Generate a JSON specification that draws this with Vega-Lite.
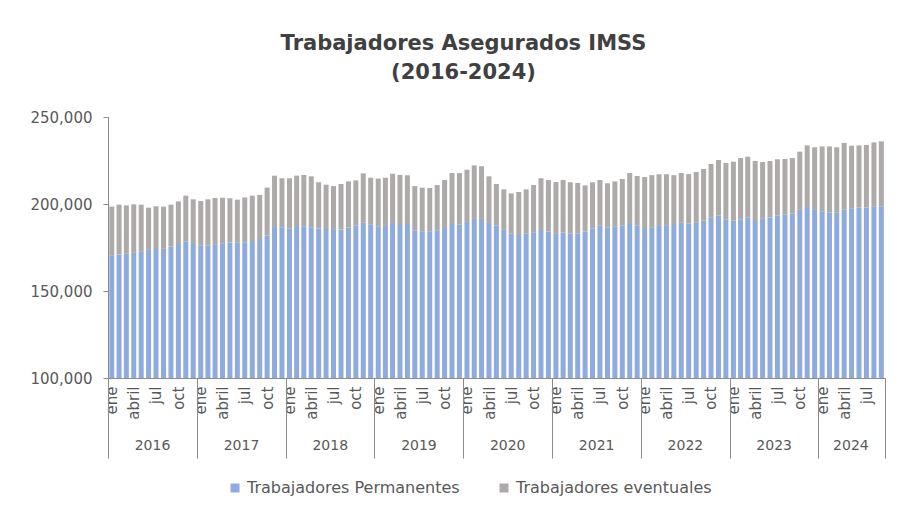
{
  "$schema": "https://vega.github.io/schema/vega-lite/v6.json",
  "autosize": {"type": "none"},
  "padding": {"left": 108, "top": 117, "right": 19, "bottom": 140},
  "width": 777,
  "height": 261,
  "background": "white",
  "title": {
    "text": ["Trabajadores Asegurados IMSS", "(2016-2024)"],
    "font": "DejaVu Sans",
    "fontSize": 21,
    "fontWeight": "bold",
    "color": "#404040",
    "anchor": "middle",
    "dx": -33,
    "offset": 27,
    "lineHeight": 29
  },
  "config": {
    "view": {"stroke": null},
    "font": "DejaVu Sans"
  },
  "data": {
    "values": [
      {"fecha": "2016-01", "Trabajadores Permanentes": 170500, "Trabajadores eventuales": 28000},
      {"fecha": "2016-02", "Trabajadores Permanentes": 170900, "Trabajadores eventuales": 28700},
      {"fecha": "2016-03", "Trabajadores Permanentes": 171400, "Trabajadores eventuales": 27800},
      {"fecha": "2016-04", "Trabajadores Permanentes": 172200, "Trabajadores eventuales": 27600},
      {"fecha": "2016-05", "Trabajadores Permanentes": 172800, "Trabajadores eventuales": 26800},
      {"fecha": "2016-06", "Trabajadores Permanentes": 173600, "Trabajadores eventuales": 24300},
      {"fecha": "2016-07", "Trabajadores Permanentes": 174100, "Trabajadores eventuales": 24600},
      {"fecha": "2016-08", "Trabajadores Permanentes": 174500, "Trabajadores eventuales": 24000},
      {"fecha": "2016-09", "Trabajadores Permanentes": 175500, "Trabajadores eventuales": 24100},
      {"fecha": "2016-10", "Trabajadores Permanentes": 177000, "Trabajadores eventuales": 24500},
      {"fecha": "2016-11", "Trabajadores Permanentes": 178400, "Trabajadores eventuales": 26400},
      {"fecha": "2016-12", "Trabajadores Permanentes": 177000, "Trabajadores eventuales": 25700},
      {"fecha": "2017-01", "Trabajadores Permanentes": 176000, "Trabajadores eventuales": 25700},
      {"fecha": "2017-02", "Trabajadores Permanentes": 176000, "Trabajadores eventuales": 26700},
      {"fecha": "2017-03", "Trabajadores Permanentes": 176800, "Trabajadores eventuales": 26700},
      {"fecha": "2017-04", "Trabajadores Permanentes": 177400, "Trabajadores eventuales": 26200},
      {"fecha": "2017-05", "Trabajadores Permanentes": 177800, "Trabajadores eventuales": 25500},
      {"fecha": "2017-06", "Trabajadores Permanentes": 178000, "Trabajadores eventuales": 24500},
      {"fecha": "2017-07", "Trabajadores Permanentes": 178000, "Trabajadores eventuales": 25800},
      {"fecha": "2017-08", "Trabajadores Permanentes": 178700, "Trabajadores eventuales": 26100},
      {"fecha": "2017-09", "Trabajadores Permanentes": 179900, "Trabajadores eventuales": 25300},
      {"fecha": "2017-10", "Trabajadores Permanentes": 181800, "Trabajadores eventuales": 27600},
      {"fecha": "2017-11", "Trabajadores Permanentes": 186800, "Trabajadores eventuales": 29500},
      {"fecha": "2017-12", "Trabajadores Permanentes": 186600, "Trabajadores eventuales": 28200},
      {"fecha": "2018-01", "Trabajadores Permanentes": 185800, "Trabajadores eventuales": 29000},
      {"fecha": "2018-02", "Trabajadores Permanentes": 186800, "Trabajadores eventuales": 29500},
      {"fecha": "2018-03", "Trabajadores Permanentes": 187200, "Trabajadores eventuales": 29500},
      {"fecha": "2018-04", "Trabajadores Permanentes": 186600, "Trabajadores eventuales": 29300},
      {"fecha": "2018-05", "Trabajadores Permanentes": 185800, "Trabajadores eventuales": 26700},
      {"fecha": "2018-06", "Trabajadores Permanentes": 185600, "Trabajadores eventuales": 25500},
      {"fecha": "2018-07", "Trabajadores Permanentes": 185100, "Trabajadores eventuales": 25200},
      {"fecha": "2018-08", "Trabajadores Permanentes": 185400, "Trabajadores eventuales": 26100},
      {"fecha": "2018-09", "Trabajadores Permanentes": 186400, "Trabajadores eventuales": 26600},
      {"fecha": "2018-10", "Trabajadores Permanentes": 187500, "Trabajadores eventuales": 26100},
      {"fecha": "2018-11", "Trabajadores Permanentes": 189300, "Trabajadores eventuales": 28300},
      {"fecha": "2018-12", "Trabajadores Permanentes": 188300, "Trabajadores eventuales": 26800},
      {"fecha": "2019-01", "Trabajadores Permanentes": 187000, "Trabajadores eventuales": 27600},
      {"fecha": "2019-02", "Trabajadores Permanentes": 187400, "Trabajadores eventuales": 27700},
      {"fecha": "2019-03", "Trabajadores Permanentes": 189100, "Trabajadores eventuales": 28300},
      {"fecha": "2019-04", "Trabajadores Permanentes": 187900, "Trabajadores eventuales": 28800},
      {"fecha": "2019-05", "Trabajadores Permanentes": 188500, "Trabajadores eventuales": 28000},
      {"fecha": "2019-06", "Trabajadores Permanentes": 184900, "Trabajadores eventuales": 25400},
      {"fecha": "2019-07", "Trabajadores Permanentes": 184300, "Trabajadores eventuales": 25100},
      {"fecha": "2019-08", "Trabajadores Permanentes": 184300, "Trabajadores eventuales": 24900},
      {"fecha": "2019-09", "Trabajadores Permanentes": 184900, "Trabajadores eventuales": 26000},
      {"fecha": "2019-10", "Trabajadores Permanentes": 186200, "Trabajadores eventuales": 27600},
      {"fecha": "2019-11", "Trabajadores Permanentes": 188500, "Trabajadores eventuales": 29300},
      {"fecha": "2019-12", "Trabajadores Permanentes": 188100, "Trabajadores eventuales": 29700},
      {"fecha": "2020-01", "Trabajadores Permanentes": 189700, "Trabajadores eventuales": 30000},
      {"fecha": "2020-02", "Trabajadores Permanentes": 191400, "Trabajadores eventuales": 30800},
      {"fecha": "2020-03", "Trabajadores Permanentes": 191400, "Trabajadores eventuales": 30300},
      {"fecha": "2020-04", "Trabajadores Permanentes": 189100, "Trabajadores eventuales": 26800},
      {"fecha": "2020-05", "Trabajadores Permanentes": 187600, "Trabajadores eventuales": 23900},
      {"fecha": "2020-06", "Trabajadores Permanentes": 185100, "Trabajadores eventuales": 23300},
      {"fecha": "2020-07", "Trabajadores Permanentes": 183000, "Trabajadores eventuales": 23100},
      {"fecha": "2020-08", "Trabajadores Permanentes": 182200, "Trabajadores eventuales": 24700},
      {"fecha": "2020-09", "Trabajadores Permanentes": 183000, "Trabajadores eventuales": 25400},
      {"fecha": "2020-10", "Trabajadores Permanentes": 183700, "Trabajadores eventuales": 27200},
      {"fecha": "2020-11", "Trabajadores Permanentes": 185100, "Trabajadores eventuales": 29700},
      {"fecha": "2020-12", "Trabajadores Permanentes": 184100, "Trabajadores eventuales": 29700},
      {"fecha": "2021-01", "Trabajadores Permanentes": 182800, "Trabajadores eventuales": 29800},
      {"fecha": "2021-02", "Trabajadores Permanentes": 183500, "Trabajadores eventuales": 30300},
      {"fecha": "2021-03", "Trabajadores Permanentes": 183000, "Trabajadores eventuales": 29500},
      {"fecha": "2021-04", "Trabajadores Permanentes": 183000, "Trabajadores eventuales": 29100},
      {"fecha": "2021-05", "Trabajadores Permanentes": 184100, "Trabajadores eventuales": 26600},
      {"fecha": "2021-06", "Trabajadores Permanentes": 185800, "Trabajadores eventuales": 26700},
      {"fecha": "2021-07", "Trabajadores Permanentes": 187500, "Trabajadores eventuales": 26300},
      {"fecha": "2021-08", "Trabajadores Permanentes": 186400, "Trabajadores eventuales": 25500},
      {"fecha": "2021-09", "Trabajadores Permanentes": 187000, "Trabajadores eventuales": 26000},
      {"fecha": "2021-10", "Trabajadores Permanentes": 187500, "Trabajadores eventuales": 26900},
      {"fecha": "2021-11", "Trabajadores Permanentes": 189100, "Trabajadores eventuales": 28700},
      {"fecha": "2021-12", "Trabajadores Permanentes": 187500, "Trabajadores eventuales": 28600},
      {"fecha": "2022-01", "Trabajadores Permanentes": 186200, "Trabajadores eventuales": 29300},
      {"fecha": "2022-02", "Trabajadores Permanentes": 186600, "Trabajadores eventuales": 30000},
      {"fecha": "2022-03", "Trabajadores Permanentes": 187400, "Trabajadores eventuales": 29700},
      {"fecha": "2022-04", "Trabajadores Permanentes": 187400, "Trabajadores eventuales": 29700},
      {"fecha": "2022-05", "Trabajadores Permanentes": 187900, "Trabajadores eventuales": 28700},
      {"fecha": "2022-06", "Trabajadores Permanentes": 189300, "Trabajadores eventuales": 28500},
      {"fecha": "2022-07", "Trabajadores Permanentes": 188700, "Trabajadores eventuales": 28500},
      {"fecha": "2022-08", "Trabajadores Permanentes": 189300, "Trabajadores eventuales": 29100},
      {"fecha": "2022-09", "Trabajadores Permanentes": 190400, "Trabajadores eventuales": 29700},
      {"fecha": "2022-10", "Trabajadores Permanentes": 192100, "Trabajadores eventuales": 30900},
      {"fecha": "2022-11", "Trabajadores Permanentes": 193300, "Trabajadores eventuales": 32000},
      {"fecha": "2022-12", "Trabajadores Permanentes": 191200, "Trabajadores eventuales": 32400},
      {"fecha": "2023-01", "Trabajadores Permanentes": 190400, "Trabajadores eventuales": 33900},
      {"fecha": "2023-02", "Trabajadores Permanentes": 191200, "Trabajadores eventuales": 35200},
      {"fecha": "2023-03", "Trabajadores Permanentes": 192100, "Trabajadores eventuales": 35100},
      {"fecha": "2023-04", "Trabajadores Permanentes": 190200, "Trabajadores eventuales": 34500},
      {"fecha": "2023-05", "Trabajadores Permanentes": 191800, "Trabajadores eventuales": 32300},
      {"fecha": "2023-06", "Trabajadores Permanentes": 192300, "Trabajadores eventuales": 32400},
      {"fecha": "2023-07", "Trabajadores Permanentes": 193300, "Trabajadores eventuales": 32400},
      {"fecha": "2023-08", "Trabajadores Permanentes": 193900, "Trabajadores eventuales": 32000},
      {"fecha": "2023-09", "Trabajadores Permanentes": 194400, "Trabajadores eventuales": 32000},
      {"fecha": "2023-10", "Trabajadores Permanentes": 196600, "Trabajadores eventuales": 33500},
      {"fecha": "2023-11", "Trabajadores Permanentes": 198300, "Trabajadores eventuales": 35400},
      {"fecha": "2023-12", "Trabajadores Permanentes": 196600, "Trabajadores eventuales": 36000},
      {"fecha": "2024-01", "Trabajadores Permanentes": 195800, "Trabajadores eventuales": 37300},
      {"fecha": "2024-02", "Trabajadores Permanentes": 195000, "Trabajadores eventuales": 38100},
      {"fecha": "2024-03", "Trabajadores Permanentes": 195000, "Trabajadores eventuales": 37600},
      {"fecha": "2024-04", "Trabajadores Permanentes": 196700, "Trabajadores eventuales": 38400},
      {"fecha": "2024-05", "Trabajadores Permanentes": 197500, "Trabajadores eventuales": 36000},
      {"fecha": "2024-06", "Trabajadores Permanentes": 197900, "Trabajadores eventuales": 35800},
      {"fecha": "2024-07", "Trabajadores Permanentes": 197900, "Trabajadores eventuales": 36000},
      {"fecha": "2024-08", "Trabajadores Permanentes": 198700, "Trabajadores eventuales": 36700},
      {"fecha": "2024-09", "Trabajadores Permanentes": 198700, "Trabajadores eventuales": 37300}
    ]
  },
  "transform": [
    {"fold": ["Trabajadores Permanentes", "Trabajadores eventuales"], "as": ["serie", "valor"]}
  ],
  "layer": [
    {
      "mark": {"type": "bar", "clip": true, "width": 5},
      "encoding": {
        "x": {
          "field": "fecha",
          "timeUnit": "utcyearmonth",
          "type": "temporal",
          "scale": {
            "type": "utc",
            "domain": [
              {"year": 2016, "month": 1, "date": 1, "utc": true},
              {"year": 2024, "month": 10, "date": 1, "utc": true}
            ]
          },
          "axis": {
            "title": null,
            "orient": "bottom",
            "tickCount": {"interval": "month", "step": 3},
            "labelExpr": "(utcyear(datum.value) == 2024 && utcmonth(datum.value) == 9) ? '' : utcmonth(datum.value) == 0 ? 'ene' : utcmonth(datum.value) == 3 ? 'abril' : utcmonth(datum.value) == 6 ? 'jul' : 'oct'",
            "labelAngle": 270,
            "labelAlign": "right",
            "labelBaseline": "middle",
            "labelOffset": 3.7,
            "labelPadding": 8,
            "labelFontSize": 15,
            "labelColor": "#595959",
            "labelOverlap": false,
            "labelFlush": false,
            "ticks": false,
            "grid": false,
            "domainColor": "#8c8c8c",
            "domainWidth": 1
          }
        },
        "y": {
          "field": "valor",
          "type": "quantitative",
          "stack": "zero",
          "scale": {"domain": [100000, 250000], "nice": false, "zero": false},
          "axis": {
            "title": null,
            "values": [100000, 150000, 200000, 250000],
            "format": ",.0f",
            "grid": false,
            "tickSize": 5,
            "tickColor": "#8c8c8c",
            "domainColor": "#8c8c8c",
            "labelPadding": 11,
            "labelFontSize": 15,
            "labelColor": "#595959"
          }
        },
        "color": {
          "field": "serie",
          "type": "nominal",
          "scale": {
            "domain": ["Trabajadores Permanentes", "Trabajadores eventuales"],
            "range": ["#8FAADC", "#AEAAAA"]
          },
          "legend": {
            "title": null,
            "orient": "none",
            "direction": "horizontal",
            "legendX": 119,
            "legendY": 363,
            "symbolType": "square",
            "symbolSize": 81,
            "symbolStrokeWidth": 0,
            "labelFontSize": 16,
            "labelColor": "#595959",
            "labelLimit": 0,
            "columnPadding": 36,
            "labelOffset": 4
          }
        },
        "order": {"field": "serie", "sort": "ascending"}
      }
    },
    {
      "mark": {"type": "tick", "opacity": 0},
      "encoding": {
        "x": {
          "field": "fecha",
          "timeUnit": "utcyearmonth",
          "type": "temporal",
          "axis": {
            "title": null,
            "orient": "bottom",
            "values": [
              {"year": 2016, "month": 1, "date": 1, "utc": true},
              {"year": 2017, "month": 1, "date": 1, "utc": true},
              {"year": 2018, "month": 1, "date": 1, "utc": true},
              {"year": 2019, "month": 1, "date": 1, "utc": true},
              {"year": 2020, "month": 1, "date": 1, "utc": true},
              {"year": 2021, "month": 1, "date": 1, "utc": true},
              {"year": 2022, "month": 1, "date": 1, "utc": true},
              {"year": 2023, "month": 1, "date": 1, "utc": true},
              {"year": 2024, "month": 1, "date": 1, "utc": true},
              {"year": 2024, "month": 10, "date": 1, "utc": true}
            ],
            "labelExpr": "utcmonth(datum.value) == 9 ? '' : '' + utcyear(datum.value)",
            "domain": false,
            "grid": false,
            "tickSize": 80,
            "tickColor": "#8c8c8c",
            "labelAlign": "center",
            "labelBaseline": "top",
            "labelPadding": -20,
            "labelOffset": {"condition": {"test": "utcyear(datum.value) == 2024", "value": 32}, "value": 44},
            "labelFontSize": 14,
            "labelColor": "#595959",
            "labelOverlap": false,
            "labelFlush": false,
            "labelBound": false
          }
        }
      }
    }
  ],
  "resolve": {"axis": {"x": "independent"}}
}
